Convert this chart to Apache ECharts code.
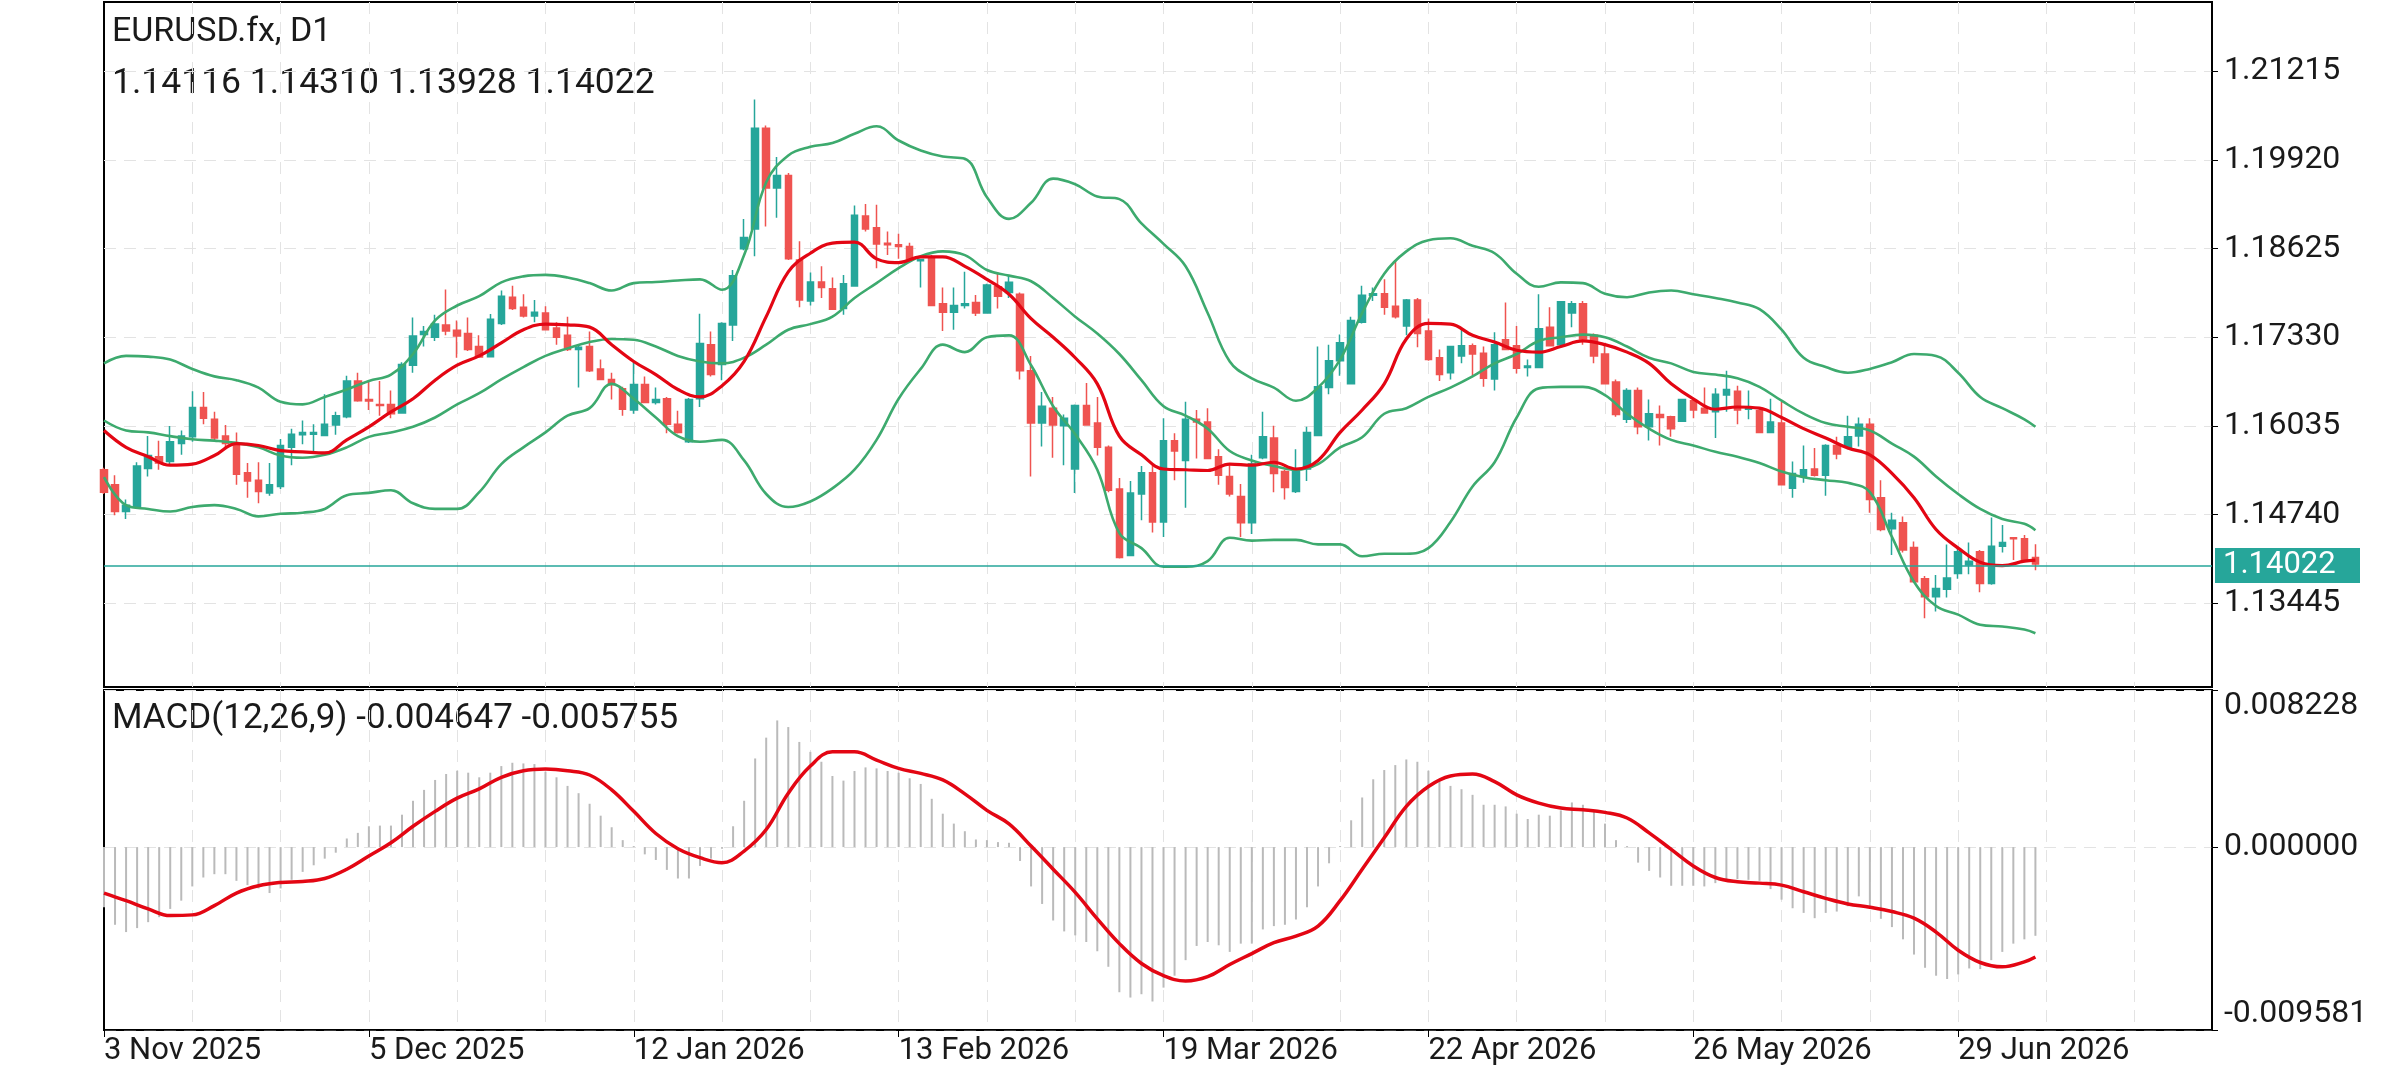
<!DOCTYPE html>
<html>
<head>
<meta charset="utf-8">
<title>EURUSD.fx, D1</title>
<script src="https://cdn.jsdelivr.net/npm/echarts@6.0.0/dist/echarts.min.js"></script>
<style>
  html, body { margin: 0; padding: 0; background: #fff; }
  #chart { width: 2392px; height: 1080px; }
</style>
</head>
<body>
<div id="chart"></div>
<script>
// symbol and calendar
const symbolName = 'EURUSD.fx, D1';
const firstDay = '2025-11-03';
const holidays = ['2025-12-25', '2026-01-01'];
const slotCount = 192; // bars + empty space on the right
const xLabels = ['3 Nov 2025', '5 Dec 2025', '12 Jan 2026', '13 Feb 2026',
  '19 Mar 2026', '22 Apr 2026', '26 May 2026', '29 Jun 2026'];
const priceTicks = [1.21215, 1.19920, 1.18625, 1.17330, 1.16035, 1.14740, 1.13445];
const macdTicks = [0.008228, 0, -0.009581];

// daily candles: [open, close, low, high]
const ohlc = [
  [1.15397,1.15070,1.15043,1.15425],[1.15179,1.14787,1.14732,1.15316],[1.14787,1.14880,1.14678,1.14961],
  [1.14863,1.15452,1.14852,1.15506],[1.15414,1.15604,1.15299,1.15888],[1.15588,1.15495,1.15397,1.15822],
  [1.15517,1.15806,1.15479,1.16035],[1.15779,1.15888,1.15615,1.15970],[1.15877,1.16307,1.15806,1.16542],
  [1.16307,1.16149,1.16062,1.16531],[1.16133,1.15860,1.15833,1.16242],[1.15888,1.15779,1.15724,1.16051],
  [1.15751,1.15332,1.15179,1.15942],[1.15354,1.15234,1.14988,1.15495],[1.15245,1.15081,1.14907,1.15506],
  [1.15059,1.15179,1.15016,1.15495],[1.15152,1.15751,1.15114,1.15844],[1.15724,1.15915,1.15463,1.15997],
  [1.15909,1.15942,1.15768,1.16116],[1.15915,1.15942,1.15659,1.16062],[1.15898,1.16062,1.15888,1.16498],
  [1.16051,1.16187,1.15909,1.16242],[1.16171,1.16694,1.16149,1.16770],[1.16694,1.16405,1.16389,1.16814],
  [1.16422,1.16400,1.16269,1.16705],[1.16351,1.16334,1.16187,1.16694],[1.16351,1.16215,1.16149,1.16553],
  [1.16226,1.16934,1.16215,1.16967],[1.16923,1.17348,1.16814,1.17621],[1.17370,1.17414,1.17196,1.17495],
  [1.17332,1.17523,1.17277,1.17659],[1.17512,1.17424,1.17359,1.18030],[1.17435,1.17348,1.17032,1.17577],
  [1.17386,1.17152,1.17130,1.17621],[1.17196,1.17043,1.17032,1.17359],[1.17048,1.17593,1.17043,1.17670],
  [1.17533,1.17931,1.17512,1.18013],[1.17915,1.17751,1.17730,1.18084],[1.17768,1.17642,1.17621,1.17958],
  [1.17642,1.17697,1.17550,1.17877],[1.17686,1.17441,1.17430,1.17784],[1.17468,1.17332,1.17223,1.17550],
  [1.17359,1.17152,1.17130,1.17632],[1.17152,1.17185,1.16596,1.17223],[1.17196,1.16841,1.16825,1.17414],
  [1.16869,1.16716,1.16705,1.17005],[1.16716,1.16640,1.16422,1.16814],[1.16580,1.16280,1.16187,1.16607],
  [1.16269,1.16640,1.16215,1.16967],[1.16640,1.16378,1.16367,1.16760],[1.16378,1.16422,1.16351,1.16596],
  [1.16433,1.16062,1.15931,1.16460],[1.16062,1.15942,1.15925,1.16258],[1.15806,1.16422,1.15789,1.16443],
  [1.16433,1.17239,1.16313,1.17675],[1.17223,1.16787,1.16760,1.17414],[1.16934,1.17533,1.16705,1.17550],
  [1.17512,1.18231,1.17277,1.18313],[1.18623,1.18787,1.18602,1.19059],[1.18912,1.20384,1.18514,1.20803],
  [1.20384,1.19512,1.18950,1.20422],[1.19512,1.19692,1.19076,1.19964],[1.19692,1.18476,1.18460,1.19730],
  [1.18460,1.17877,1.17768,1.18732],[1.17860,1.18138,1.17795,1.18275],[1.18138,1.18057,1.17904,1.18367],
  [1.18040,1.17741,1.17730,1.18204],[1.17751,1.18111,1.17659,1.18242],[1.18078,1.19114,1.18068,1.19256],
  [1.19103,1.18912,1.18874,1.19277],[1.18929,1.18694,1.18340,1.19267],[1.18705,1.18683,1.18531,1.18874],
  [1.18683,1.18656,1.18476,1.18841],[1.18656,1.18476,1.18449,1.18711],[1.18449,1.18465,1.18057,1.18476],
  [1.18504,1.17795,1.17784,1.18531],[1.17822,1.17697,1.17424,1.18057],[1.17697,1.17795,1.17441,1.18057],
  [1.17795,1.17822,1.17751,1.18286],[1.17839,1.17686,1.17642,1.17948],[1.17686,1.18095,1.17675,1.18111],
  [1.18068,1.17931,1.17751,1.18275],[1.17986,1.18133,1.17904,1.18242],[1.17959,1.16841,1.16716,1.17986],
  [1.16841,1.16078,1.15299,1.17059],[1.16078,1.16324,1.15735,1.16531],[1.16296,1.16051,1.15571,1.16460],
  [1.16040,1.16149,1.15463,1.16204],[1.15408,1.16334,1.15059,1.16351],[1.16334,1.16051,1.16040,1.16662],
  [1.16078,1.15724,1.15604,1.16460],[1.15724,1.15097,1.15070,1.15751],[1.15114,1.14116,1.14100,1.15277],
  [1.14144,1.15059,1.14133,1.15234],[1.15043,1.15354,1.14661,1.15452],[1.15354,1.14634,1.14481,1.15463],
  [1.14634,1.15822,1.14416,1.16149],[1.15822,1.15670,1.15244,1.15931],[1.15533,1.16133,1.14841,1.16389],
  [1.16133,1.16095,1.15561,1.16269],[1.16095,1.15561,1.15550,1.16296],[1.15588,1.15315,1.15179,1.15697],
  [1.15299,1.15043,1.15005,1.15463],[1.15005,1.14623,1.14416,1.15190],[1.14623,1.15479,1.14460,1.15615],
  [1.15571,1.15877,1.15550,1.16242],[1.15860,1.15343,1.15070,1.16040],[1.15370,1.15136,1.14961,1.15397],
  [1.15081,1.15397,1.15059,1.15697],[1.15408,1.15942,1.15234,1.16024],[1.15898,1.16607,1.15888,1.17196],
  [1.16596,1.16988,1.16498,1.17223],[1.16988,1.17250,1.16770,1.17370],[1.16651,1.17577,1.16640,1.17632],
  [1.17550,1.17943,1.17533,1.18084],[1.17943,1.17966,1.17860,1.18057],[1.17966,1.17768,1.17659,1.18177],
  [1.17784,1.17632,1.17604,1.18460],[1.17495,1.17877,1.17359,1.17890],[1.17877,1.17386,1.17185,1.17904],
  [1.17424,1.17005,1.16988,1.17604],[1.17032,1.16787,1.16694,1.17152],[1.16814,1.17196,1.16716,1.17206],
  [1.17059,1.17206,1.16950,1.17457],[1.17206,1.17087,1.16770,1.17239],[1.17097,1.16732,1.16607,1.17196],
  [1.16721,1.17223,1.16553,1.17403],[1.17294,1.17152,1.17141,1.17839],[1.17206,1.16879,1.16803,1.17495],
  [1.16890,1.16912,1.16760,1.17005],[1.16890,1.17457,1.16879,1.17959],[1.17479,1.17206,1.17196,1.17768],
  [1.17223,1.17850,1.17206,1.17860],[1.17686,1.17822,1.17479,1.17860],[1.17822,1.17305,1.17223,1.17860],
  [1.17359,1.17059,1.16950,1.17386],[1.17087,1.16651,1.16640,1.17206],[1.16678,1.16204,1.16171,1.16716],
  [1.16133,1.16553,1.16078,1.16585],[1.16553,1.16024,1.15915,1.16596],[1.16024,1.16215,1.15823,1.16422],
  [1.16204,1.16160,1.15751,1.16334],[1.16171,1.15997,1.15877,1.16187],[1.16106,1.16422,1.16095,1.16433],
  [1.16405,1.16269,1.16149,1.16422],[1.16296,1.16226,1.16215,1.16596],[1.16242,1.16498,1.15860,1.16585],
  [1.16487,1.16569,1.16242,1.16841],[1.16542,1.16269,1.16062,1.16623],[1.16280,1.16296,1.16133,1.16553],
  [1.16258,1.15942,1.15931,1.16296],[1.15942,1.16095,1.15931,1.16433],[1.16078,1.15179,1.15168,1.16389],
  [1.15125,1.15343,1.14988,1.15517],[1.15299,1.15397,1.15206,1.15751],[1.15408,1.15315,1.15299,1.15713],
  [1.15315,1.15751,1.15016,1.15768],[1.15751,1.15626,1.15550,1.15877],[1.15724,1.15877,1.15697,1.16187],
  [1.15888,1.16062,1.15735,1.16160],[1.16062,1.14961,1.14770,1.16149],[1.14988,1.14525,1.14498,1.15244],
  [1.14536,1.14661,1.14154,1.14770],[1.14623,1.14225,1.14187,1.14716],[1.14263,1.13762,1.13751,1.14351],
  [1.13806,1.13544,1.13228,1.13844],[1.13544,1.13664,1.13326,1.13860],[1.13653,1.13817,1.13533,1.14307],
  [1.13882,1.14198,1.13806,1.14280],[1.14007,1.14062,1.13871,1.14334],[1.14198,1.13735,1.13610,1.14225],
  [1.13735,1.14280,1.13719,1.14699],[1.14280,1.14334,1.14187,1.14590],[1.14405,1.14389,1.14078,1.14416],
  [1.14389,1.14062,1.14045,1.14443],[1.14116,1.14022,1.13928,1.14310]
];

// indicator lines, read every second bar (plus the last bar)
const bbUpper = [
  1.16950,1.17059,1.17048,1.17005,1.16869,1.16760,1.16705,1.16596,1.16389,1.16351,1.16460,1.16569,1.16694,1.16787,1.17087,
  1.17577,1.17795,1.17931,1.18133,1.18220,1.18242,1.18204,1.18122,1.18013,1.18122,1.18138,1.18160,1.18177,1.18024,1.18531,
  1.19594,1.19986,1.20111,1.20166,1.20302,1.20411,1.20204,1.20057,1.19969,1.19937,1.19376,1.19059,1.19294,1.19648,1.19566,
  1.19386,1.19348,1.18994,1.18694,1.18367,1.17686,1.16978,1.16732,1.16596,1.16405,1.16596,1.17005,1.17686,1.18259,1.18585,
  1.18749,1.18776,1.18667,1.18558,1.18259,1.18068,1.18133,1.18122,1.17966,1.17915,1.17986,1.18013,1.17959,1.17904,1.17839,
  1.17741,1.17441,1.17032,1.16896,1.16814,1.16869,1.16967,1.17087,1.17059,1.16814,1.16460,1.16296,1.16133,1.16024
];
const bbMiddle = [
  1.16116,1.15970,1.15942,1.15888,1.15841,1.15822,1.15789,1.15724,1.15604,1.15571,1.15615,1.15724,1.15877,1.15942,1.16024,
  1.16160,1.16351,1.16514,1.16716,1.16896,1.17059,1.17169,1.17261,1.17305,1.17294,1.17196,1.17059,1.16978,1.16950,1.17032,
  1.17223,1.17441,1.17523,1.17632,1.17904,1.18122,1.18340,1.18514,1.18585,1.18531,1.18313,1.18231,1.18149,1.17904,1.17632,
  1.17386,1.17087,1.16705,1.16324,1.16187,1.15997,1.15670,1.15533,1.15452,1.15397,1.15479,1.15724,1.15871,1.16215,1.16296,
  1.16460,1.16596,1.16760,1.16950,1.17087,1.17277,1.17332,1.17370,1.17332,1.17196,1.17032,1.16950,1.16825,1.16787,1.16732,
  1.16607,1.16405,1.16215,1.16078,1.16024,1.15970,1.15779,1.15588,1.15299,1.15043,1.14825,1.14678,1.14607,1.14514
];
const bbLower = [
  1.15288,1.14880,1.14825,1.14787,1.14852,1.14880,1.14825,1.14716,1.14754,1.14770,1.14825,1.15026,1.15059,1.15097,1.14907,
  1.14825,1.14825,1.15070,1.15479,1.15724,1.15942,1.16187,1.16296,1.16651,1.16433,1.16160,1.15888,1.15806,1.15833,1.15533,
  1.15043,1.14852,1.14934,1.15125,1.15397,1.15833,1.16433,1.16869,1.17223,1.17114,1.17332,1.17359,1.16923,1.16324,1.15915,
  1.15397,1.14471,1.14253,1.13980,1.13980,1.14062,1.14405,1.14362,1.14373,1.14373,1.14307,1.14307,1.14133,1.14171,1.14171,
  1.14253,1.14634,1.15152,1.15506,1.16160,1.16585,1.16607,1.16607,1.16487,1.16215,1.15997,1.15833,1.15751,1.15659,1.15588,
  1.15495,1.15370,1.15288,1.15244,1.15206,1.15070,1.14416,1.13762,1.13408,1.13282,1.13135,1.13108,1.13064,1.13010
];
const maRed = [
  1.15970,1.15724,1.15588,1.15463,1.15479,1.15604,1.15779,1.15751,1.15676,1.15659,1.15642,1.15833,1.16024,1.16242,1.16433,
  1.16705,1.16923,1.17059,1.17250,1.17441,1.17523,1.17512,1.17479,1.17223,1.16978,1.16787,1.16569,1.16460,1.16623,1.16978,
  1.17632,1.18286,1.18558,1.18705,1.18721,1.18476,1.18422,1.18504,1.18504,1.18367,1.18177,1.17959,1.17604,1.17332,1.17032,
  1.16651,1.15888,1.15615,1.15408,1.15397,1.15386,1.15479,1.15463,1.15506,1.15408,1.15533,1.15942,1.16269,1.16651,1.17305,
  1.17533,1.17523,1.17359,1.17261,1.17141,1.17114,1.17196,1.17277,1.17223,1.17114,1.16950,1.16651,1.16433,1.16280,1.16313,
  1.16296,1.16160,1.15997,1.15860,1.15713,1.15615,1.15343,1.14988,1.14525,1.14253,1.14045,1.13996,1.14062,1.14078
];

// MACD(12,26,9): main values (histogram) and signal line
const macdMain = [
  -0.003152,-0.004070,-0.004451,-0.004243,-0.003932,-0.003672,-0.003239,-0.002806,-0.002061,-0.001593,
  -0.001420,-0.001420,-0.001767,-0.001992,-0.002165,-0.002407,-0.002165,-0.001715,-0.001299,-0.000953,
  -0.000606,-0.000294,0.000450,0.000745,0.001091,0.001126,0.001126,0.001697,0.002425,0.002996,
  0.003516,0.003828,0.004001,0.003897,0.003655,0.003897,0.004243,0.004417,0.004382,0.004347,
  0.003949,0.003655,0.003204,0.002823,0.002269,0.001645,0.001039,0.000364,0.000052,-0.000381,
  -0.000675,-0.001195,-0.001645,-0.001645,-0.000987,-0.000606,-0.000087,0.001091,0.002425,0.004642,
  0.005733,0.006634,0.006287,0.005508,0.004988,0.004469,0.003724,0.003481,0.003984,0.004174,
  0.004122,0.003984,0.003897,0.003603,0.003308,0.002529,0.001749,0.001230,0.000831,0.000398,
  0.000364,0.000260,0.000225,-0.000727,-0.002061,-0.002979,-0.003845,-0.004417,-0.004624,-0.004971,
  -0.005456,-0.006270,-0.007603,-0.007881,-0.007707,-0.008088,-0.007361,-0.006737,-0.005923,-0.005179,
  -0.004971,-0.005144,-0.005490,-0.005057,-0.005057,-0.004313,-0.004139,-0.004070,-0.003793,-0.003152,
  -0.002061,-0.000849,0.000052,0.001403,0.002598,0.003551,0.004036,0.004295,0.004590,0.004469,
  0.004001,0.003481,0.003204,0.003031,0.002737,0.002217,0.002217,0.002130,0.001749,0.001472,
  0.001697,0.001645,0.001923,0.002338,0.002217,0.001923,0.001230,0.000364,0.000052,-0.000814,
  -0.001247,-0.001593,-0.002026,-0.002026,-0.002026,-0.002061,-0.001888,-0.001767,-0.001680,-0.001715,
  -0.001767,-0.002200,-0.002754,-0.003204,-0.003447,-0.003724,-0.003447,-0.003377,-0.003100,-0.002581,
  -0.003152,-0.003758,-0.004191,-0.004832,-0.005629,-0.006322,-0.006737,-0.006911,-0.006668,-0.006356,
  -0.006391,-0.005923,-0.005490,-0.005057,-0.004832,-0.004647
];
const macdSignal = [
  -0.002407,-0.002806,-0.003239,-0.003585,-0.003551,-0.003066,-0.002407,-0.002026,-0.001853,-0.001801,
  -0.001645,-0.001160,-0.000468,0.000225,0.001091,0.001871,0.002563,0.003048,0.003655,0.004001,
  0.004088,0.004001,0.003776,0.002996,0.001871,0.000710,-0.000087,-0.000554,-0.000814,-0.000208,
  0.000918,0.002823,0.004243,0.004988,0.004988,0.004555,0.004122,0.003862,0.003516,0.002789,
  0.001923,0.001212,0.000052,-0.001160,-0.002373,-0.003758,-0.005057,-0.006097,-0.006737,-0.007015,
  -0.006789,-0.006149,-0.005577,-0.005006,-0.004659,-0.004139,-0.002806,-0.001160,0.000485,0.002130,
  0.003170,0.003724,0.003828,0.003429,0.002737,0.002304,0.002044,0.001957,0.001819,0.001524,
  0.000745,-0.000121,-0.000987,-0.001593,-0.001819,-0.001888,-0.001992,-0.002338,-0.002685,-0.002979,
  -0.003152,-0.003377,-0.003724,-0.004451,-0.005404,-0.006045,-0.006270,-0.006010,-0.005755
];

// bars at which the lines were read
const lastBar = ohlc.length - 1;
const sampleBars = [];
for (let i = 0; i < lastBar; i += 2) sampleBars.push(i);
sampleBars.push(lastBar);

const months = ['Jan','Feb','Mar','Apr','May','Jun','Jul','Aug','Sep','Oct','Nov','Dec'];
const dates = [];
let day = new Date(firstDay + 'T00:00:00Z');
while (dates.length < slotCount) {
  const iso = day.toISOString().slice(0, 10);
  const wd = day.getUTCDay();
  if (wd !== 0 && wd !== 6 && holidays.indexOf(iso) < 0) dates.push(iso);
  day.setUTCDate(day.getUTCDate() + 1);
}
function fmtDate(iso) {
  const p = iso.split('-');
  return (+p[2]) + ' ' + months[+p[1] - 1] + ' ' + p[0];
}
const isLabelDay = (idx, val) => xLabels.indexOf(fmtDate(val)) >= 0;
const isGridDay = (idx) => idx > 0 && idx % 8 === 0;

const pick = (arr) => sampleBars.map((b, i) => [b, arr[i]]);
const last = ohlc[lastBar];
const headerPrices = [last[0], last[3], last[2], last[1]].map(v => v.toFixed(5)).join(' ');
const headerMacd = 'MACD(12,26,9) ' + macdMain[lastBar].toFixed(6) + ' ' + macdSignal[macdSignal.length - 1].toFixed(6);

const bullColor = '#26a69a';
const bearColor = '#ef5350';
const bandColor = '#3daa6e';
const redLine = '#e30613';
const gridDash = { color: '#e3e3e3', width: 1, type: [12, 8] };
const font = 'Roboto';

const chart = echarts.init(document.getElementById('chart'));
const option = {
  animation: false,
  backgroundColor: '#fff',
  textStyle: { fontFamily: font },
  grid: [
    { left: 104, right: 180, top: 2, height: 685, show: true, borderColor: '#000', borderWidth: 2 },
    { left: 104, right: 180, top: 690, height: 340, show: true, borderColor: '#000', borderWidth: 2 }
  ],
  xAxis: [
    {
      type: 'category', gridIndex: 0, data: dates, boundaryGap: false,
      axisLine: { show: false }, axisTick: { show: false }, axisLabel: { show: false },
      splitLine: { show: true, interval: isGridDay, lineStyle: gridDash }
    },
    {
      type: 'category', gridIndex: 1, data: dates, boundaryGap: false,
      axisLine: { show: true, onZero: false, lineStyle: { color: '#000', width: 1.5 } },
      axisTick: { show: true, interval: isLabelDay, length: 7, lineStyle: { color: '#000' } },
      axisLabel: {
        interval: isLabelDay, formatter: fmtDate, align: 'left',
        fontSize: 31, color: '#1a1a1a', margin: 6, fontFamily: font
      },
      splitLine: { show: true, interval: isGridDay, lineStyle: gridDash }
    }
  ],
  yAxis: [
    {
      type: 'value', gridIndex: 0, position: 'right', min: 1.12225, max: 1.22226,
      axisLine: { show: true, lineStyle: { color: '#000', width: 1.5 } },
      axisTick: { show: true, customValues: priceTicks, length: 6, lineStyle: { color: '#000' } },
      axisLabel: {
        customValues: priceTicks, formatter: v => v.toFixed(5),
        fontSize: 32, color: '#1a1a1a', margin: 12, fontFamily: font
      },
      splitLine: { show: true, lineStyle: gridDash }
    },
    {
      type: 'value', gridIndex: 1, position: 'right', min: -0.009581, max: 0.008228,
      axisLine: { show: true, lineStyle: { color: '#000', width: 1.5 } },
      axisTick: { show: true, customValues: macdTicks, length: 6, lineStyle: { color: '#000' } },
      axisLabel: {
        customValues: macdTicks, formatter: v => v.toFixed(6),
        fontSize: 32, color: '#1a1a1a', margin: 12, fontFamily: font,
        verticalAlignMaxLabel: 'bottom', verticalAlignMinLabel: 'top'
      },
      splitLine: { show: true, lineStyle: gridDash }
    }
  ],
  graphic: [
    { type: 'text', left: 112, top: 15, style: { text: symbolName, font: '34px Roboto', fill: '#1a1a1a' } },
    { type: 'text', left: 112, top: 66, style: { text: headerPrices, font: '35.5px Roboto', fill: '#1a1a1a' } },
    { type: 'text', left: 112, top: 702, style: { text: headerMacd, font: '35px Roboto', fill: '#1a1a1a' } }
  ],
  series: [
    {
      name: 'EURUSD', type: 'candlestick', xAxisIndex: 0, yAxisIndex: 0, z: 2,
      data: ohlc, barWidth: 7, clip: true,
      itemStyle: { color: bullColor, color0: bearColor, borderColor: bullColor, borderColor0: bearColor, borderWidth: 1.5 },
      markLine: {
        silent: true, symbol: ['none', 'none'], animation: false,
        lineStyle: { color: bullColor, type: 'solid', width: 1.5 },
        label: {
          position: 'end', distance: 3, formatter: () => last[1].toFixed(5),
          backgroundColor: bullColor, color: '#fff', fontSize: 31, fontFamily: font,
          padding: [2, 8, 2, 8], width: 129
        },
        data: [{ yAxis: last[1] }]
      }
    },
    { name: 'BB upper', type: 'line', xAxisIndex: 0, yAxisIndex: 0, z: 3, data: pick(bbUpper),
      symbol: 'none', smooth: 0.4, lineStyle: { color: bandColor, width: 2.6 } },
    { name: 'BB middle', type: 'line', xAxisIndex: 0, yAxisIndex: 0, z: 3, data: pick(bbMiddle),
      symbol: 'none', smooth: 0.4, lineStyle: { color: bandColor, width: 2.6 } },
    { name: 'BB lower', type: 'line', xAxisIndex: 0, yAxisIndex: 0, z: 3, data: pick(bbLower),
      symbol: 'none', smooth: 0.4, lineStyle: { color: bandColor, width: 2.6 } },
    { name: 'MA', type: 'line', xAxisIndex: 0, yAxisIndex: 0, z: 4, data: pick(maRed),
      symbol: 'none', smooth: 0.4, lineStyle: { color: redLine, width: 3.2 } },
    { name: 'MACD', type: 'bar', xAxisIndex: 1, yAxisIndex: 1, data: macdMain,
      barWidth: 2, itemStyle: { color: '#bababa' } },
    { name: 'Signal', type: 'line', xAxisIndex: 1, yAxisIndex: 1, z: 4, data: pick(macdSignal),
      symbol: 'none', smooth: 0.4, lineStyle: { color: redLine, width: 3.5 } }
  ]
};
chart.setOption(option);
</script>
</body>
</html>
